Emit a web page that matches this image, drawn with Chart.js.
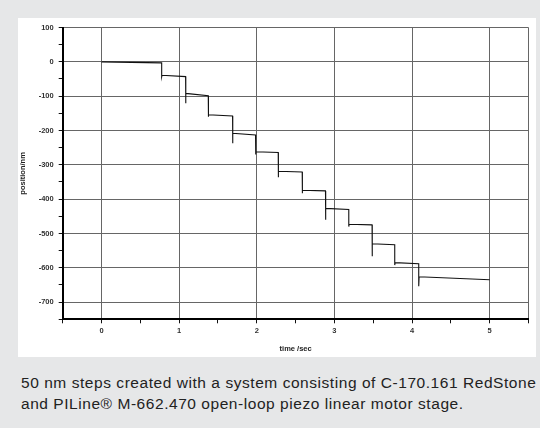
<!DOCTYPE html>
<html>
<head>
<meta charset="utf-8">
<script src="https://cdn.jsdelivr.net/npm/chart.js@4"></script>
<style>
  html, body { margin: 0; padding: 0; }
  body { width: 540px; height: 428px; background: #e6e7e8; position: relative; overflow: hidden; }
  #painel { position: absolute; left: 18px; top: 18px; width: 518px; height: 339px; background: #fff; }
  #legenda {
    position: absolute; left: 21px; top: 373px; white-space: nowrap;
    font-family: "Liberation Sans", Arial, sans-serif; font-size: 15.5px; letter-spacing: 0.55px;
    line-height: 20.5px; color: #222;
  }
</style>
</head>
<body>
<div id="painel"><canvas id="stepChart" width="518" height="339"></canvas></div>
<div id="legenda">50 nm steps created with a system consisting of C-170.161 RedStone<br>and PILine® M-662.470 open-loop piezo linear motor stage.</div>
<script>
// Dados (tempo em s, posição em nm)
const timeSec = [0, 0.775, 0.775, 0.78, 1.083, 1.083, 1.088, 1.375, 1.375, 1.38, 1.688, 1.688, 1.693,
  1.984, 1.984, 1.989, 2.276, 2.276, 2.281, 2.585, 2.585, 2.59, 2.885, 2.885, 2.89, 3.185, 3.185, 3.19,
  3.485, 3.485, 3.49, 3.777, 3.777, 3.782, 4.086, 4.086, 4.091, 5.0];
const positionNm = [0, -3, -44, -39, -43, -121, -92, -99, -160, -154, -158, -237, -208,
  -213, -270, -262, -264, -336, -319, -321, -383, -374, -376, -460, -427, -430, -480, -473,
  -475, -566, -530, -533, -592, -585, -588, -654, -626, -635];
const xTickLabels = [0, 1, 2, 3, 4, 5];
const yTickLabels = [100, 0, -100, -200, -300, -400, -500, -600, -700];

const pontos = timeSec.map((t, i) => ({ x: t, y: positionNm[i] }));
const fonteTick = { family: 'Liberation Sans, Arial', size: 7.5, weight: 'bold' };

const ctx = document.getElementById('stepChart').getContext('2d');
new Chart(ctx, {
  type: 'scatter',
  data: {
    datasets: [{
      data: pontos,
      showLine: true,
      borderColor: '#111',
      borderWidth: 1.1,
      pointRadius: 0,
      tension: 0
    }]
  },
  options: {
    responsive: false,
    animation: false,
    layout: { padding: { top: 8.7, right: 7.5, left: 0, bottom: 0 } },
    plugins: { legend: { display: false }, tooltip: { enabled: false } },
    scales: {
      x: {
        type: 'linear',
        min: -0.5, max: 5.5,
        afterFit: (s) => { s.height = 37.7; },
        border: { color: '#000', width: 2 },
        grid: {
          color: (c) => (xTickLabels.includes(c.tick.value) || c.tick.value === 5.5) ? '#666' : 'rgba(0,0,0,0)',
          tickColor: '#111',
          tickLength: 4,
          lineWidth: 1
        },
        ticks: {
          stepSize: 0.5, autoSkip: false, maxRotation: 0, padding: 3,
          color: '#333', font: fonteTick,
          callback: (v) => xTickLabels.includes(v) ? String(v) : ''
        },
        title: {
          display: true, text: 'time /sec', color: '#222',
          font: { family: 'Liberation Sans, Arial', size: 7.5, weight: 'bold' },
          padding: { top: 2, bottom: 4 }
        }
      },
      y: {
        min: -750, max: 100,
        afterFit: (s) => { s.width = 44.7; },
        border: { color: '#000', width: 2 },
        grid: {
          color: (c) => yTickLabels.includes(c.tick.value) ? '#666' : 'rgba(0,0,0,0)',
          tickColor: '#111',
          tickLength: 4,
          lineWidth: 1
        },
        ticks: {
          stepSize: 50, autoSkip: false, padding: 5,
          color: '#333', font: fonteTick,
          callback: (v) => yTickLabels.includes(v) ? String(v) : ''
        },
        title: {
          display: true, text: 'position/nm', color: '#222',
          font: { family: 'Liberation Sans, Arial', size: 7.5, weight: 'bold' },
          padding: { top: 0, bottom: 0 }
        }
      }
    }
  }
});
</script>
</body>
</html>
